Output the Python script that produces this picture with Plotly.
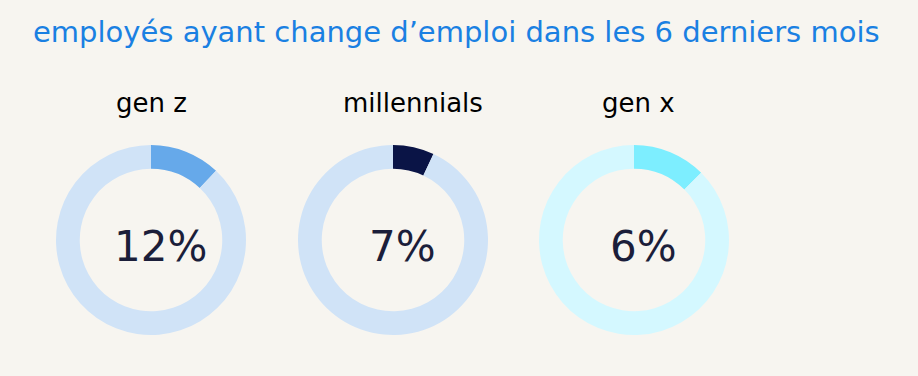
import plotly.graph_objects as go

title_text = "employés ayant change d’emploi dans les 6 derniers mois"
groups = ["gen z", "millennials", "gen x"]
pct_labels = ["12%", "7%", "6%"]
# arc share as drawn in the picture (percent of the ring)
arc_values = [12, 7, 12.5]
seg_colors = ["#66A9EA", "#0A1446", "#7DEEFF"]
ring_colors = ["#D0E3F7", "#D0E3F7", "#D4F8FF"]

W, H = 918, 376
centers_x = [151, 393, 634]
center_y = 240
R = 95
label_x = [151, 413, 638]

fig = go.Figure()
for i, g in enumerate(groups):
    cx = centers_x[i]
    fig.add_trace(go.Pie(
        values=[arc_values[i], 100 - arc_values[i]],
        labels=[g, "autres"],
        hole=0.75,
        sort=False,
        direction="clockwise",
        rotation=0,
        marker=dict(colors=[seg_colors[i], ring_colors[i]], line=dict(width=0)),
        textinfo="none",
        hoverinfo="label+percent",
        showlegend=False,
        domain=dict(x=[(cx - R) / W, (cx + R) / W],
                    y=[(H - center_y - R) / H, (H - center_y + R) / H]),
    ))

annotations = [dict(text=title_text, x=456 / W, y=1 - 32 / H, xref="paper", yref="paper",
                    showarrow=False, font=dict(family="DejaVu Sans", size=29, color="#1A80E2"),
                    xanchor="center", yanchor="middle")]
for i, g in enumerate(groups):
    annotations.append(dict(text=g, x=label_x[i] / W, y=1 - 103 / H, xref="paper", yref="paper",
                            showarrow=False, font=dict(family="DejaVu Sans", size=26, color="#000000"),
                            xanchor="center", yanchor="middle"))
    annotations.append(dict(text=pct_labels[i], x=(centers_x[i] + 9) / W, y=1 - 246 / H,
                            xref="paper", yref="paper", showarrow=False,
                            font=dict(family="DejaVu Sans", size=42, color="#1B1E3A"),
                            xanchor="center", yanchor="middle"))

fig.update_layout(
    width=W, height=H,
    margin=dict(l=0, r=0, t=0, b=0),
    paper_bgcolor="#F7F5F0",
    plot_bgcolor="#F7F5F0",
    annotations=annotations,
)
fig.write_html(
    "out.html",
    config={"displayModeBar": False},
    post_script="document.body.style.margin='0';document.body.style.background='#F7F5F0';",
)
